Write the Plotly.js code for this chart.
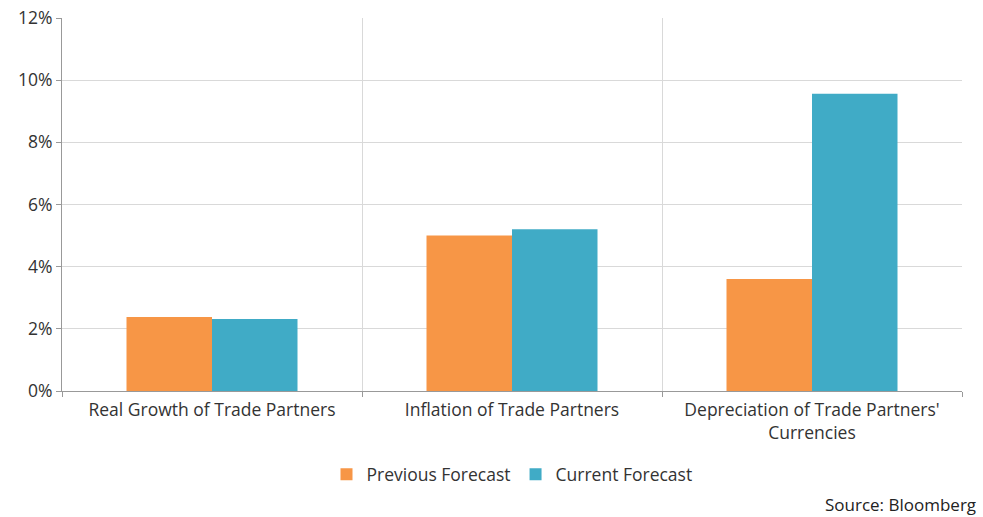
<!DOCTYPE html>
<html>
<head>
<meta charset="utf-8">
<script src="https://cdn.plot.ly/plotly-3.0.1.min.js"></script>
<style>html,body{margin:0;padding:0;background:#fff;}#chart{width:983px;height:517px;}</style>
</head>
<body>
<div id="chart"></div>
<script>
const categories = ["Real Growth of Trade Partners", "Inflation of Trade Partners", "Depreciation of Trade Partners'<br>Currencies"];
const previousForecast = [0.0238, 0.0500, 0.0360];
const currentForecast = [0.0232, 0.0520, 0.0956];
const seriesNames = ["Previous Forecast", "Current Forecast"];
const yTickVals = [0, 0.02, 0.04, 0.06, 0.08, 0.10, 0.12];
const yTickText = ["0%", "2%", "4%", "6%", "8%", "10%", "12%"];

const fam = "'Open Sans', sans-serif";
const txt = {family: fam, size: 17.5, color: "#333"};
const data = [
  {type: "bar", x: categories, y: previousForecast, name: seriesNames[0], marker: {color: "#F79646"}},
  {type: "bar", x: categories, y: currentForecast, name: seriesNames[1], marker: {color: "#40ABC6"}}
];
const layout = {
  width: 983, height: 517,
  margin: {l: 62, r: 21, t: 18, b: 126},
  paper_bgcolor: "#fff", plot_bgcolor: "#fff",
  font: txt,
  barmode: "group", bargap: 0.43, bargroupgap: 0,
  showlegend: true,
  legend: {orientation: "h", x: 0.5, xanchor: "center", y: -0.175, yanchor: "top", font: txt, traceorder: "normal"},
  xaxis: {
    type: "category", tickson: "boundaries", ticks: "outside", ticklen: 5, tickcolor: "#999",
    showgrid: true, gridcolor: "#d9d9d9", showline: true, linecolor: "#999", linewidth: 1,
    tickfont: txt, ticklabelstandoff: 3, fixedrange: true
  },
  yaxis: {
    range: [0, 0.12], tickvals: yTickVals, ticktext: yTickText,
    ticks: "outside", ticklen: 5, tickcolor: "#999",
    showgrid: true, gridcolor: "#d9d9d9", showline: true, linecolor: "#999", linewidth: 1,
    zeroline: false, tickfont: txt, fixedrange: true
  },
  annotations: [{
    text: "Source: Bloomberg", xref: "paper", yref: "paper", x: 1.018, xanchor: "right",
    y: -0.305, yanchor: "middle", showarrow: false,
    font: {family: fam, size: 17, color: "#222"}
  }]
};
Plotly.newPlot("chart", data, layout, {displayModeBar: false, staticPlot: true});
</script>
</body>
</html>
